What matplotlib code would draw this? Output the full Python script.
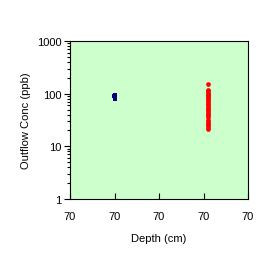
import numpy as np
import matplotlib
matplotlib.use("Agg")
import matplotlib.pyplot as plt
from matplotlib.ticker import FormatStrFormatter, LogLocator, NullFormatter

plt.rcParams['font.family'] = ['Liberation Sans', 'DejaVu Sans']

# data
blue_depth = [69.797, 69.803, 69.803, 69.803]
blue_conc = [92, 95, 86, 80]

red_depth = [70.22] * 26
red_conc = [153, 115, 110, 105, 100, 95, 90, 85, 80, 75, 70, 65, 60, 56,
            52, 48, 45, 42, 39, 36, 31, 29, 27, 25, 23, 21]

x_ticks = [69.6, 69.8, 70.0, 70.2, 70.4]

fig = plt.figure(figsize=(2.75, 2.55), dpi=100)
ax = fig.add_axes([70 / 275, 1 - 200 / 255, 178 / 275, 158 / 255])
ax.set_facecolor('#CCFFCC')

ax.plot(blue_depth, blue_conc, 's', color='#000080', markersize=3.2,
        markeredgewidth=0, clip_on=False)
ax.plot(red_depth, red_conc, 'o', color='#FF0000', markersize=3.4,
        markeredgewidth=0, clip_on=False)

ax.set_yscale('log')
ax.set_ylim(1, 1000)
ax.set_xlim(69.6, 70.4)
ax.set_xticks(x_ticks)
ax.xaxis.set_major_formatter(FormatStrFormatter('%.0f'))
ax.yaxis.set_major_formatter(FormatStrFormatter('%.0f'))
ax.yaxis.set_minor_locator(LogLocator(base=10, subs=np.arange(2, 10)))
ax.yaxis.set_minor_formatter(NullFormatter())

ax.tick_params(axis='x', direction='in', length=4, width=0.8, labelsize=8, pad=9)
ax.tick_params(axis='y', which='major', direction='out', length=4, width=0.8, labelsize=8, pad=2)
ax.tick_params(axis='y', which='minor', direction='out', length=2.5, width=0.8)
for s in ax.spines.values():
    s.set_linewidth(0.8)

ax.set_xlabel('Depth (cm)', fontsize=8, labelpad=8)
ax.set_ylabel('Outflow Conc (ppb)', fontsize=8, labelpad=4)

fig.savefig('out.png', dpi=100)
